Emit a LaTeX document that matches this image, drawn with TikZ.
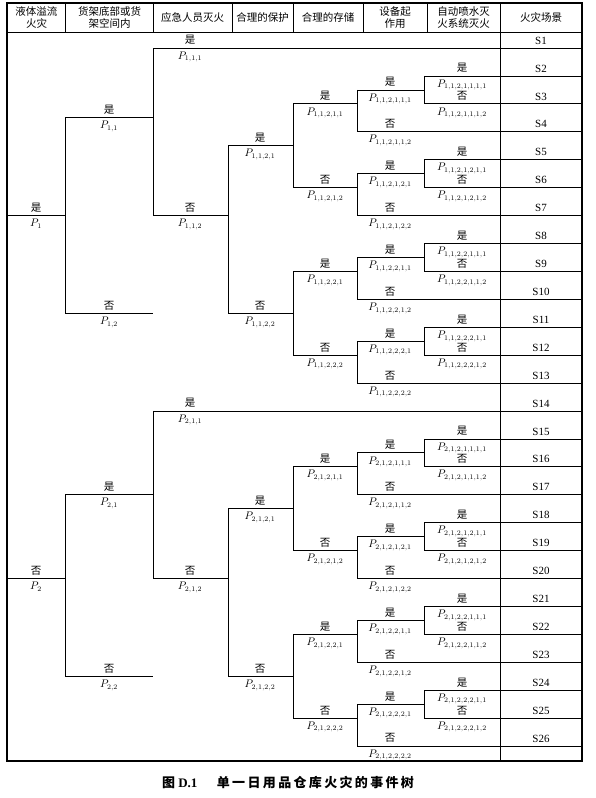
\documentclass[tikz,border=0pt]{standalone}
\usepackage{fontspec}
\setmainfont{Liberation Serif}
\newfontfamily\cjk{Noto Sans CJK SC}
\newfontfamily\cjktitle[LetterSpace=18]{Noto Sans CJK SC}
\tikzset{
  evline/.style={black, line width=0.7pt},
  frameline/.style={black, line width=1.4pt},
  gridline/.style={black, line width=0.8pt},
  anslbl/.style={anchor=south, inner sep=0pt, font=\cjk\fontsize{10.5}{12}\selectfont},
  problbl/.style={anchor=north, inner sep=0pt, font=\fontsize{10.5}{12}\selectfont},
  headlbl/.style={align=center, inner sep=0pt, font=\cjk\fontsize{10.5}{12.5}\selectfont},
  scenlbl/.style={anchor=south, inner sep=0pt, font=\fontsize{11}{13}\selectfont}
}
% row r of the tree -> y
\newcommand{\rowy}[1]{48+27.92*(#1)}
% one branch: name, x from, x to, row, label x, answer, index
\newcommand{\evbranch}[7]{%
  \coordinate (#1s) at (#2,{\rowy{#4}});
  \coordinate (#1e) at (#3,{\rowy{#4}});
  \draw[evline] (#1s) -- (#1e);
  \node[anslbl] (#1t) at (#5,{\rowy{#4}-3}) {#6};
  \node[problbl] (#1p) at (#5,{\rowy{#4}+3.5}) {$P_{#7}$};
}
% storage branch with equipment and sprinkler branches: name, base row, index, answer
\newcommand{\evblock}[4]{%
  \evbranch{#1}{293}{357}{#2+2}{325}{#4}{#3}
  \evbranch{#1y}{357}{424}{#2+1.5}{390}{是}{#3,1}
  \evbranch{#1n}{357}{582}{#2+3}{390}{否}{#3,2}
  \evbranch{#1yy}{424}{582}{#2+1}{462}{是}{#3,1,1}
  \evbranch{#1yn}{424}{582}{#2+2}{462}{否}{#3,1,2}
  \draw[evline] (#1ys) -- (#1ns);
  \draw[evline] (#1yys) -- (#1yns);
}

\begin{document}
\begin{tikzpicture}[x=1pt,y=-1pt]
\useasboundingbox (0,0) rectangle (596,798);
% table frame and header
\draw[frameline] (7,3) rectangle (582,761);
\draw[gridline] (7,32) -- (582,32);
\draw[gridline] (500,3) -- (500,761);
\draw[gridline] (65.7,3) -- (65.7,32);
\draw[gridline] (153,3) -- (153,32);
\draw[gridline] (232,3) -- (232,32);
\draw[gridline] (293,3) -- (293,32);
\draw[gridline] (363,3) -- (363,32);
\draw[gridline] (427,3) -- (427,32);
\node[headlbl] (h1) at (36.5,17.5) {液体溢流\\火灾};
\node[headlbl] (h2) at (109.5,17.5) {货架底部或货\\架空间内};
\node[headlbl] (h3) at (192.5,17.5) {应急人员灭火};
\node[headlbl] (h4) at (262.5,17.5) {合理的保护};
\node[headlbl] (h5) at (328,17.5) {合理的存储};
\node[headlbl] (h6) at (395,17.5) {设备起\\作用};
\node[headlbl] (h7) at (463.5,17.5) {自动喷水灭\\火系统灭火};
\node[headlbl] (h8) at (541,17.5) {火灾场景};
% event tree
\evbranch{p1}{7}{65}{6}{36}{是}{1}
\evbranch{p2}{7}{65}{19}{36}{否}{2}
\evbranch{p11}{65}{153}{2.5}{109}{是}{1,1}
\evbranch{p12}{65}{153}{9.5}{109}{否}{1,2}
\evbranch{p21}{65}{153}{16}{109}{是}{2,1}
\evbranch{p22}{65}{153}{22.5}{109}{否}{2,2}
\evbranch{p111}{153}{582}{0}{190}{是}{1,1,1}
\evbranch{p112}{153}{228}{6}{190}{否}{1,1,2}
\evbranch{p211}{153}{582}{13}{190}{是}{2,1,1}
\evbranch{p212}{153}{228}{19}{190}{否}{2,1,2}
\evbranch{p1121}{228}{293}{3.5}{260}{是}{1,1,2,1}
\evbranch{p1122}{228}{293}{9.5}{260}{否}{1,1,2,2}
\evbranch{p2121}{228}{293}{16.5}{260}{是}{2,1,2,1}
\evbranch{p2122}{228}{293}{22.5}{260}{否}{2,1,2,2}
\evblock{p11211}{0}{1,1,2,1,1}{是}
\evblock{p11212}{3}{1,1,2,1,2}{否}
\evblock{p11221}{6}{1,1,2,2,1}{是}
\evblock{p11222}{9}{1,1,2,2,2}{否}
\evblock{p21211}{13}{2,1,2,1,1}{是}
\evblock{p21212}{16}{2,1,2,1,2}{否}
\evblock{p21221}{19}{2,1,2,2,1}{是}
\evblock{p21222}{22}{2,1,2,2,2}{否}
\draw[evline] (p11s) -- (p12s);
\draw[evline] (p21s) -- (p22s);
\draw[evline] (p111s) -- (p112s);
\draw[evline] (p211s) -- (p212s);
\draw[evline] (p1121s) -- (p1122s);
\draw[evline] (p2121s) -- (p2122s);
\draw[evline] (p11211s) -- (p11212s);
\draw[evline] (p11221s) -- (p11222s);
\draw[evline] (p21211s) -- (p21212s);
\draw[evline] (p21221s) -- (p21222s);
% fire scenarios
\node[scenlbl] (s1) at (541,{\rowy{0}-3.5}) {S1};
\node[scenlbl] (s2) at (541,{\rowy{1}-3.5}) {S2};
\node[scenlbl] (s3) at (541,{\rowy{2}-3.5}) {S3};
\node[scenlbl] (s4) at (541,{\rowy{3}-3.5}) {S4};
\node[scenlbl] (s5) at (541,{\rowy{4}-3.5}) {S5};
\node[scenlbl] (s6) at (541,{\rowy{5}-3.5}) {S6};
\node[scenlbl] (s7) at (541,{\rowy{6}-3.5}) {S7};
\node[scenlbl] (s8) at (541,{\rowy{7}-3.5}) {S8};
\node[scenlbl] (s9) at (541,{\rowy{8}-3.5}) {S9};
\node[scenlbl] (s10) at (541,{\rowy{9}-3.5}) {S10};
\node[scenlbl] (s11) at (541,{\rowy{10}-3.5}) {S11};
\node[scenlbl] (s12) at (541,{\rowy{11}-3.5}) {S12};
\node[scenlbl] (s13) at (541,{\rowy{12}-3.5}) {S13};
\node[scenlbl] (s14) at (541,{\rowy{13}-3.5}) {S14};
\node[scenlbl] (s15) at (541,{\rowy{14}-3.5}) {S15};
\node[scenlbl] (s16) at (541,{\rowy{15}-3.5}) {S16};
\node[scenlbl] (s17) at (541,{\rowy{16}-3.5}) {S17};
\node[scenlbl] (s18) at (541,{\rowy{17}-3.5}) {S18};
\node[scenlbl] (s19) at (541,{\rowy{18}-3.5}) {S19};
\node[scenlbl] (s20) at (541,{\rowy{19}-3.5}) {S20};
\node[scenlbl] (s21) at (541,{\rowy{20}-3.5}) {S21};
\node[scenlbl] (s22) at (541,{\rowy{21}-3.5}) {S22};
\node[scenlbl] (s23) at (541,{\rowy{22}-3.5}) {S23};
\node[scenlbl] (s24) at (541,{\rowy{23}-3.5}) {S24};
\node[scenlbl] (s25) at (541,{\rowy{24}-3.5}) {S25};
\node[scenlbl] (s26) at (541,{\rowy{25}-3.5}) {S26};
% caption
\node[font=\fontsize{13}{15}\selectfont] (title) at (288,783)
  {{\cjk\bfseries 图}\ \textbf{D.1}\hspace{1.5em}{\cjktitle\bfseries 单一日用品仓库火灾的事件树}};
\end{tikzpicture}
\end{document}
